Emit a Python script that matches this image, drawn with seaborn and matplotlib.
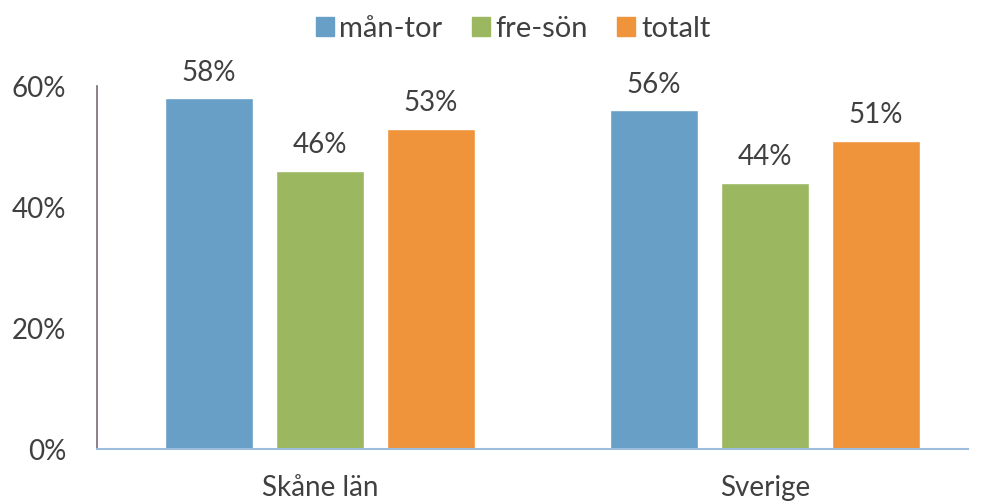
import pandas as pd
import matplotlib.pyplot as plt
import seaborn as sns
from matplotlib.ticker import PercentFormatter

regions = ['Skåne län', 'Sverige']
series = ['mån-tor', 'fre-sön', 'totalt']
man_tor = [0.58, 0.56]
fre_son = [0.46, 0.44]
totalt = [0.53, 0.51]
colors = ['#679FC7', '#9BB860', '#EF943A']

df = pd.DataFrame({
    'region': regions * 3,
    'period': [s for s in series for _ in regions],
    'value': man_tor + fre_son + totalt,
})

sns.set_style('white')
plt.rcParams['font.family'] = ['Lato', 'DejaVu Sans']
text_color = '#404040'

fig = plt.figure(figsize=(9.81, 5.04), dpi=100)
ax = fig.add_axes([0.0989, 0.109, 0.8878, 0.72])

sns.barplot(data=df, x='region', y='value', hue='period', hue_order=series,
            palette=colors, width=0.748, gap=0.2, ax=ax, legend=False,
            saturation=1)

for container in ax.containers:
    ax.bar_label(container, labels=[f'{v * 100:.0f}%' for v in container.datavalues],
                 padding=9, fontsize=20, color=text_color)

ax.set_ylim(0, 0.6)
ax.set_xlim(-0.501, 1.456)
ax.set_yticks([0, 0.2, 0.4, 0.6])
ax.yaxis.set_major_formatter(PercentFormatter(1.0, decimals=0))
ax.tick_params(axis='y', length=0, pad=22, labelsize=20, labelcolor=text_color)
ax.tick_params(axis='x', length=0, pad=19, labelsize=20, labelcolor=text_color)
ax.set_xlabel('')
ax.set_ylabel('')

for side in ['top', 'right']:
    ax.spines[side].set_visible(False)
ax.spines['left'].set_color('#7A6A75')
ax.spines['left'].set_linewidth(1.2)
ax.spines['bottom'].set_color('#9DBEDD')
ax.spines['bottom'].set_linewidth(1.5)

handles = [plt.Rectangle((0, 0), 1, 1, color=c) for c in colors]
fig.legend(handles, series, loc='upper center', bbox_to_anchor=(0.523, 1.02),
           ncol=3, frameon=False, fontsize=21, handlelength=0.62, handleheight=0.62,
           handletextpad=0.2, columnspacing=1.0, labelcolor=text_color)

fig.savefig('out.png', dpi=100)
